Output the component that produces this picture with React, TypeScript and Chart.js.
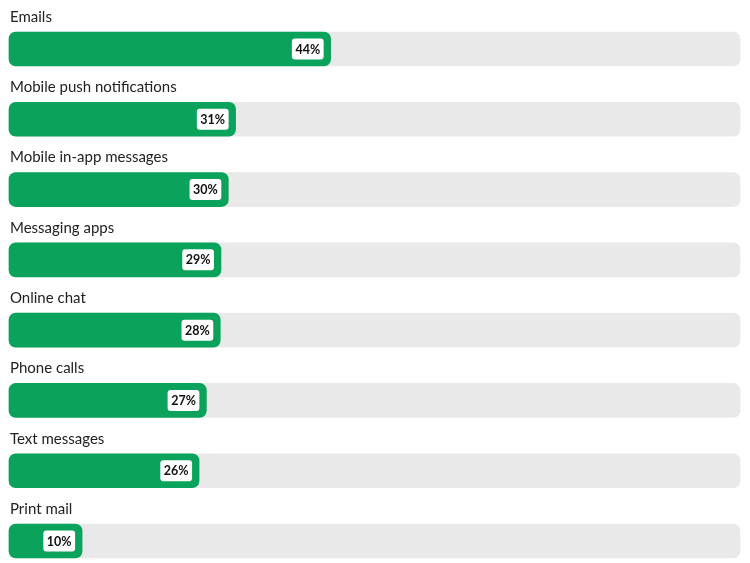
import React, { useEffect, useRef } from "react";
import { Chart, registerables } from "chart.js";

Chart.register(...registerables);

const categories = [
  "Emails",
  "Mobile push notifications",
  "Mobile in-app messages",
  "Messaging apps",
  "Online chat",
  "Phone calls",
  "Text messages",
  "Print mail",
];
const values = [44, 31, 30, 29, 28.9, 27, 26, 10];
const valueLabels = ["44%", "31%", "30%", "29%", "28%", "27%", "26%", "10%"];
const trackValues = [100, 100, 100, 100, 100, 100, 100, 100];

const FONT = "Lato, 'Noto Sans', sans-serif";

const labelPlugin = {
  id: "rowLabels",
  afterDatasetsDraw(chart: any) {
    const ctx = chart.ctx;
    const meta = chart.getDatasetMeta(1);
    const area = chart.chartArea;
    ctx.save();
    meta.data.forEach((bar: any, i: number) => {
      ctx.font = `15px ${FONT}`;
      ctx.fillStyle = "#222222";
      ctx.textAlign = "left";
      ctx.textBaseline = "middle";
      ctx.fillText(categories[i], area.left + 1, bar.y - 32);
      ctx.font = `bold 12.5px ${FONT}`;
      const txt = valueLabels[i];
      const tw = ctx.measureText(txt).width;
      const bw = tw + 7;
      const bh = 21;
      const right = bar.x - 7;
      const left = right - bw;
      const top = bar.y - bh / 2;
      ctx.fillStyle = "#ffffff";
      ctx.beginPath();
      (ctx as any).roundRect(left, top, bw, bh, 3);
      ctx.fill();
      ctx.fillStyle = "#111111";
      ctx.textAlign = "center";
      ctx.fillText(txt, left + bw / 2, bar.y + 0.5);
    });
    ctx.restore();
  },
};

export default function App() {
  const ref = useRef<HTMLCanvasElement | null>(null);
  useEffect(() => {
    if (!ref.current) return;
    const chart = new Chart(ref.current, {
      type: "bar",
      data: {
        labels: categories,
        datasets: [
          {
            data: trackValues,
            backgroundColor: "#e9e9e9",
            borderRadius: 7,
            borderSkipped: false,
            barThickness: 34,
            grouped: false,
            clip: false as any,
            order: 2,
          } as any,
          {
            data: values,
            backgroundColor: "#0ba35b",
            borderRadius: 7,
            borderSkipped: false,
            barThickness: 34,
            grouped: false,
            clip: false as any,
            order: 1,
          } as any,
        ],
      },
      options: {
        indexAxis: "y",
        animation: false,
        responsive: false,
        maintainAspectRatio: false,
        layout: { padding: { left: 9, right: 10, top: 49, bottom: 22 } },
        plugins: { legend: { display: false }, tooltip: { enabled: false } },
        scales: {
          x: { display: false, min: 0, max: 100 },
          y: { display: false, offset: false, grid: { offset: false } },
        },
      },
      plugins: [labelPlugin],
    });
    return () => chart.destroy();
  }, []);
  return (
    <div style={{ position: "fixed", left: 0, top: 0, width: 750, height: 563, background: "#fff" }}>
      <canvas ref={ref} width={750} height={563} style={{ width: 750, height: 563 }} />
    </div>
  );
}
